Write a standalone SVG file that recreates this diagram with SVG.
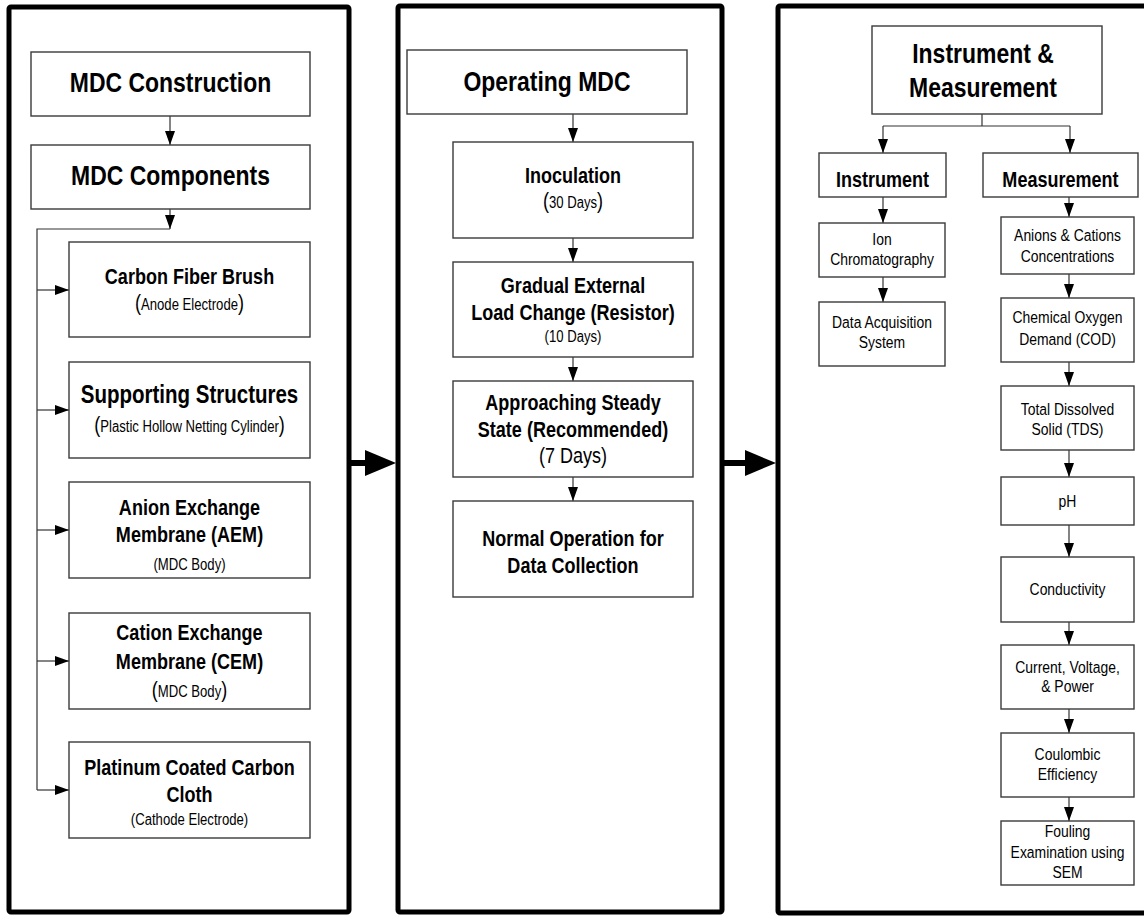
<svg xmlns="http://www.w3.org/2000/svg" width="1144" height="917" viewBox="0 0 1144 917">
<defs>
<marker id="ah" markerUnits="userSpaceOnUse" markerWidth="14" markerHeight="10" refX="14" refY="5" orient="auto">
<path d="M0,0 L14,5 L0,10 z" fill="#000"/>
</marker>
<style>
.panel{fill:#fff;stroke:#000;stroke-width:5}
.box{fill:#fff;stroke:#3a3a3a;stroke-width:1.4}
.c{fill:none;stroke:#333;stroke-width:1.2}
.a{fill:none;stroke:#333;stroke-width:1.2;marker-end:url(#ah)}
text{font-family:"Liberation Sans Narrow","Arial Narrow","Liberation Sans",Arial,sans-serif;fill:#000;text-anchor:middle}
.h28{font-size:28px;font-weight:bold}
.h25{font-size:25px;font-weight:bold}
.h22{font-size:22px;font-weight:bold}
.r22{font-size:22px}
.r17{font-size:17px}
.r16{font-size:16px}
.p{font-size:22px}
</style>
</defs>
<rect width="1144" height="917" fill="#fff"/>

<g id="panel-construction">
<rect class="panel" x="9" y="7" width="340" height="905" rx="2"/>
</g>
<g id="panel-operating">
<rect class="panel" x="398" y="6" width="324" height="906" rx="2"/>
</g>
<g id="panel-instrument">
<rect class="panel" x="778" y="6" width="400" height="907" rx="2"/>
</g>

<g id="connectors">
<line class="a" x1="170" y1="116" x2="170" y2="145"/>
<line class="a" x1="170" y1="209" x2="170" y2="229"/>
<polyline class="c" points="170,229 37,229 37,790"/>
<line class="a" x1="37" y1="290" x2="69" y2="290"/>
<line class="a" x1="37" y1="410" x2="69" y2="410"/>
<line class="a" x1="37" y1="530" x2="69" y2="530"/>
<line class="a" x1="37" y1="661" x2="69" y2="661"/>
<line class="a" x1="37" y1="790" x2="69" y2="790"/>

<line class="a" x1="573" y1="114" x2="573" y2="142"/>
<line class="a" x1="573" y1="238" x2="573" y2="262"/>
<line class="a" x1="573" y1="357" x2="573" y2="381"/>
<line class="a" x1="573" y1="477" x2="573" y2="501"/>

<polyline class="c" points="982,114 982,126"/>
<polyline class="c" points="883,126 1070,126"/>
<line class="a" x1="883" y1="126" x2="883" y2="153"/>
<line class="a" x1="1070" y1="126" x2="1070" y2="153"/>
<line class="a" x1="883" y1="197" x2="883" y2="223"/>
<line class="a" x1="883" y1="277" x2="883" y2="302"/>
<line class="a" x1="1069" y1="197" x2="1069" y2="217"/>
<line class="a" x1="1069" y1="274" x2="1069" y2="298"/>
<line class="a" x1="1069" y1="362" x2="1069" y2="386"/>
<line class="a" x1="1069" y1="450" x2="1069" y2="477"/>
<line class="a" x1="1069" y1="525" x2="1069" y2="557"/>
<line class="a" x1="1069" y1="622" x2="1069" y2="645"/>
<line class="a" x1="1069" y1="709" x2="1069" y2="733"/>
<line class="a" x1="1069" y1="797" x2="1069" y2="821"/>

<line x1="349" y1="463" x2="368" y2="463" stroke="#000" stroke-width="6"/>
<polygon points="365,450 396,463 365,476" fill="#000"/>
<line x1="722" y1="463" x2="748" y2="463" stroke="#000" stroke-width="6"/>
<polygon points="745,450 776,463 745,476" fill="#000"/>
</g>

<g id="mdc-construction">
<rect class="box" x="31" y="52" width="279" height="64"/>
<text class="h28" transform="matrix(.82 0 0 1 170.5 0)" x="0" y="92">MDC Construction</text>
</g>
<g id="mdc-components">
<rect class="box" x="31" y="145" width="279" height="64"/>
<text class="h28" transform="matrix(.82 0 0 1 170.5 0)" x="0" y="185">MDC Components</text>
</g>
<g id="carbon-fiber-brush">
<rect class="box" x="69" y="242" width="241" height="95"/>
<text class="h22" transform="matrix(.82 0 0 1 189.5 0)" x="0" y="284">Carbon Fiber Brush</text>
<text transform="matrix(.82 0 0 1 189.5 0)" x="0" y="310"><tspan class="p">(</tspan><tspan class="r16">Anode Electrode</tspan><tspan class="p">)</tspan></text>
</g>
<g id="supporting-structures">
<rect class="box" x="69" y="362" width="241" height="96"/>
<text class="h25" transform="matrix(.82 0 0 1 189.5 0)" x="0" y="403">Supporting Structures</text>
<text transform="matrix(.82 0 0 1 189.5 0)" x="0" y="432"><tspan class="p">(</tspan><tspan class="r16">Plastic Hollow Netting Cylinder</tspan><tspan class="p">)</tspan></text>
</g>
<g id="aem">
<rect class="box" x="69" y="482" width="241" height="96"/>
<text class="h22" transform="matrix(.82 0 0 1 189.5 0)" x="0" y="515">Anion Exchange</text>
<text class="h22" transform="matrix(.82 0 0 1 189.5 0)" x="0" y="542">Membrane (AEM)</text>
<text class="r16" transform="matrix(.82 0 0 1 189.5 0)" x="0" y="570">(MDC Body)</text>
</g>
<g id="cem">
<rect class="box" x="69" y="613" width="241" height="96"/>
<text class="h22" transform="matrix(.82 0 0 1 189.5 0)" x="0" y="640">Cation Exchange</text>
<text class="h22" transform="matrix(.82 0 0 1 189.5 0)" x="0" y="669">Membrane (CEM)</text>
<text transform="matrix(.82 0 0 1 189.5 0)" x="0" y="697"><tspan class="p">(</tspan><tspan class="r16">MDC Body</tspan><tspan class="p">)</tspan></text>
</g>
<g id="platinum-cloth">
<rect class="box" x="69" y="742" width="241" height="96"/>
<text class="h22" transform="matrix(.82 0 0 1 189.5 0)" x="0" y="775">Platinum Coated Carbon</text>
<text class="h22" transform="matrix(.82 0 0 1 189.5 0)" x="0" y="802">Cloth</text>
<text class="r16" transform="matrix(.82 0 0 1 189.5 0)" x="0" y="825">(Cathode Electrode)</text>
</g>

<g id="operating-mdc">
<rect class="box" x="407" y="50" width="280" height="64"/>
<text class="h28" transform="matrix(.82 0 0 1 547 0)" x="0" y="91">Operating MDC</text>
</g>
<g id="inoculation">
<rect class="box" x="453" y="142" width="240" height="96"/>
<text class="h22" transform="matrix(.82 0 0 1 573 0)" x="0" y="183">Inoculation</text>
<text transform="matrix(.82 0 0 1 573 0)" x="0" y="208"><tspan class="p">(</tspan><tspan class="r16">30 Days</tspan><tspan class="p">)</tspan></text>
</g>
<g id="gradual-load">
<rect class="box" x="453" y="262" width="240" height="95"/>
<text class="h22" transform="matrix(.82 0 0 1 573 0)" x="0" y="293">Gradual External</text>
<text class="h22" transform="matrix(.82 0 0 1 573 0)" x="0" y="320">Load Change (Resistor)</text>
<text class="r16" transform="matrix(.82 0 0 1 573 0)" x="0" y="342">(10 Days)</text>
</g>
<g id="steady-state">
<rect class="box" x="453" y="381" width="240" height="96"/>
<text class="h22" transform="matrix(.82 0 0 1 573 0)" x="0" y="410">Approaching Steady</text>
<text class="h22" transform="matrix(.82 0 0 1 573 0)" x="0" y="437">State (Recommended)</text>
<text class="r22" transform="matrix(.82 0 0 1 573 0)" x="0" y="463">(7 Days)</text>
</g>
<g id="normal-operation">
<rect class="box" x="453" y="501" width="240" height="96"/>
<text class="h22" transform="matrix(.82 0 0 1 573 0)" x="0" y="546">Normal Operation for</text>
<text class="h22" transform="matrix(.82 0 0 1 573 0)" x="0" y="573">Data Collection</text>
</g>

<g id="instrument-measurement">
<rect class="box" x="872" y="26" width="230" height="88"/>
<text class="h28" transform="matrix(.82 0 0 1 983 0)" x="0" y="63">Instrument &amp;</text>
<text class="h28" transform="matrix(.82 0 0 1 983 0)" x="0" y="97">Measurement</text>
</g>
<g id="instrument">
<rect class="box" x="819" y="153" width="127" height="44"/>
<text class="h22" transform="matrix(.82 0 0 1 882.5 0)" x="0" y="187">Instrument</text>
</g>
<g id="measurement">
<rect class="box" x="983" y="153" width="155" height="44"/>
<text class="h22" transform="matrix(.82 0 0 1 1060.5 0)" x="0" y="187">Measurement</text>
</g>
<g id="ion-chromatography">
<rect class="box" x="819" y="223" width="126" height="54"/>
<text class="r17" transform="matrix(.82 0 0 1 882 0)" x="0" y="245">Ion</text>
<text class="r17" transform="matrix(.82 0 0 1 882 0)" x="0" y="265">Chromatography</text>
</g>
<g id="data-acquisition">
<rect class="box" x="819" y="302" width="126" height="64"/>
<text class="r17" transform="matrix(.82 0 0 1 882 0)" x="0" y="328">Data Acquisition</text>
<text class="r17" transform="matrix(.82 0 0 1 882 0)" x="0" y="348">System</text>
</g>
<g id="anions-cations">
<rect class="box" x="1001" y="217" width="133" height="57"/>
<text class="r17" transform="matrix(.82 0 0 1 1067.5 0)" x="0" y="241">Anions &amp; Cations</text>
<text class="r17" transform="matrix(.82 0 0 1 1067.5 0)" x="0" y="262">Concentrations</text>
</g>
<g id="cod">
<rect class="box" x="1001" y="298" width="133" height="64"/>
<text class="r17" transform="matrix(.82 0 0 1 1067.5 0)" x="0" y="323">Chemical Oxygen</text>
<text class="r17" transform="matrix(.82 0 0 1 1067.5 0)" x="0" y="345">Demand (COD)</text>
</g>
<g id="tds">
<rect class="box" x="1001" y="386" width="133" height="64"/>
<text class="r17" transform="matrix(.82 0 0 1 1067.5 0)" x="0" y="415">Total Dissolved</text>
<text class="r17" transform="matrix(.82 0 0 1 1067.5 0)" x="0" y="435">Solid (TDS)</text>
</g>
<g id="ph">
<rect class="box" x="1001" y="477" width="133" height="48"/>
<text class="r17" transform="matrix(.82 0 0 1 1067.5 0)" x="0" y="507">pH</text>
</g>
<g id="conductivity">
<rect class="box" x="1001" y="557" width="133" height="65"/>
<text class="r17" transform="matrix(.82 0 0 1 1067.5 0)" x="0" y="595">Conductivity</text>
</g>
<g id="current-voltage-power">
<rect class="box" x="1001" y="645" width="133" height="64"/>
<text class="r17" transform="matrix(.82 0 0 1 1067.5 0)" x="0" y="673">Current, Voltage,</text>
<text class="r17" transform="matrix(.82 0 0 1 1067.5 0)" x="0" y="692">&amp; Power</text>
</g>
<g id="coulombic-efficiency">
<rect class="box" x="1001" y="733" width="133" height="64"/>
<text class="r17" transform="matrix(.82 0 0 1 1067.5 0)" x="0" y="760">Coulombic</text>
<text class="r17" transform="matrix(.82 0 0 1 1067.5 0)" x="0" y="780">Efficiency</text>
</g>
<g id="fouling-sem">
<rect class="box" x="1001" y="821" width="133" height="64"/>
<text class="r17" transform="matrix(.82 0 0 1 1067.5 0)" x="0" y="837">Fouling</text>
<text class="r17" transform="matrix(.82 0 0 1 1067.5 0)" x="0" y="858">Examination using</text>
<text class="r17" transform="matrix(.82 0 0 1 1067.5 0)" x="0" y="878">SEM</text>
</g>
</svg>
